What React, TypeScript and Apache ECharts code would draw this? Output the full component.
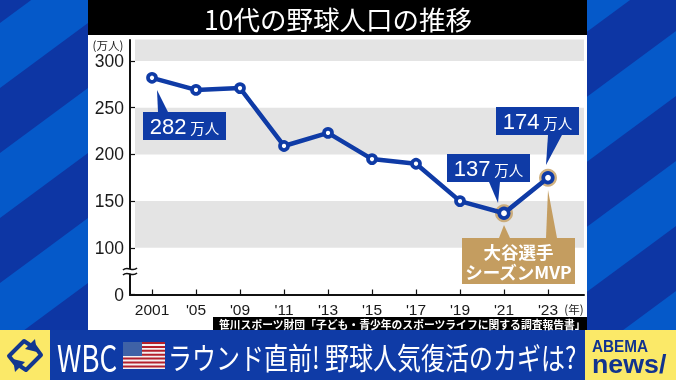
import React, { useEffect, useRef } from "react";
import * as echarts from "echarts";

const xLabels = ["2001", "'05", "'09", "'11", "'13", "'15", "'17", "'19", "'21", "'23"];
const values = [282, 269, 271, 209, 223, 195, 190, 150, 137, 175];
const highlightIdx = [8, 9];
const yTicks = [0, 100, 150, 200, 250, 300];
const bands = [[100, 150], [200, 250], [300, 323]];
const titleText = "10代の野球人口の推移";
const sourceText = "笹川スポーツ財団「子ども・青少年のスポーツライフに関する調査報告書」";
const headline = "ラウンド直前! 野球人気復活のカギは?";

const JP = '"Noto Sans CJK JP", "Noto Sans", sans-serif';
const LAT = '"Liberation Sans", Arial, sans-serif';
const BLUE = "#0f3ba6";
const TAN = "#c49d60";
const LIGHT = "#0559c9";
const DARK = "#0d36a4";
const YEL = "#fbe968";

const stripes = (x0: number, x1: number, yAtX1: number) => {
  const out: any[] = [];
  const k = 0.74;
  for (let i = -2; i < 5; i++) {
    const u = yAtX1 + i * 130;
    const d = x1 - x0;
    out.push({
      type: "polygon", z: -10, silent: true,
      shape: { points: [[x0, u + k * d], [x1, u], [x1, u + 65], [x0, u + 65 + k * d]] },
      style: { fill: DARK },
    });
  }
  return out;
};

const T = (text: string, x: number, y: number, font: string, fill: string, align = "center", extra: any = {}) => ({
  type: "text", x, y, z: 20, silent: true, ...extra,
  style: { text, font, fill, textAlign: align, textVerticalAlign: "middle", ...(extra.style || {}) },
});
const R = (x: number, y: number, w: number, h: number, fill: string, z = -5) => ({
  type: "rect", z, silent: true, shape: { x, y, width: w, height: h }, style: { fill },
});
const Tail = (pts: number[][], fill: string) => ({
  type: "polygon", z: 15, silent: true, shape: { points: pts }, style: { fill },
});
const Callout = (num: string, x: number, y: number, w: number, h: number) => ({
  type: "text", x: x + w / 2, y: y + h / 2 + 0.5, z: 20, silent: true,
  style: {
    text: `{a|${num}}{b|万人}`, fill: "#fff", textAlign: "center", textVerticalAlign: "middle",
    rich: {
      a: { font: `22px ${LAT}`, fill: "#fff", padding: [0, 4, 0, 0] },
      b: { font: `14.5px ${JP}`, fill: "#fff", padding: [2, 0, 0, 0] },
    },
  },
});

function flag() {
  const out: any[] = [R(123, 342, 42, 27, "#f4f1f1", 5)];
  for (let i = 0; i < 7; i++) out.push(R(123, 342 + i * 3.9, 42, 2, "#b3202c", 5));
  out.push(R(123, 342, 19, 14, "#3f62a6", 6));
  return out;
}

function wave(y: number) {
  return {
    type: "bezierCurve", z: 12, silent: true,
    shape: { x1: 123, y1: y + 1, x2: 137, y2: y - 1, cpx1: 128, cpy1: y - 4, cpx2: 132, cpy2: y + 4 },
    style: { stroke: "#111", lineWidth: 1.6, fill: "none" },
  };
}

function App() {
  const ref = useRef<HTMLDivElement>(null);
  useEffect(() => {
    document.body.style.margin = "0";
    const chart = echarts.init(ref.current!, null, { renderer: "svg" });
    const graphic: any[] = [
      R(0, 0, 676, 380, LIGHT, -20),
      ...stripes(0, 88, 23),
      ...stripes(587, 676, -34),
      R(88, 0, 499, 35, "#000", -4),
      R(88, 35, 499, 295, "#fff", -4),
      R(0, 330, 676, 50, BLUE, 4),
      R(0, 330, 50, 50, YEL, 5),
      R(585, 330, 91, 50, YEL, 5),
      T(titleText, 338, 18, `26.5px ${JP}`, "#fff"),
      T("(万人)", 108, 44.5, `11.5px ${JP}`, "#222"),
      T("(年)", 574, 308.5, `11.5px ${JP}`, "#222"),
      R(125, 269, 11, 5, "#fff", 11),
      wave(269),
      wave(274),
      R(213, 317, 374, 13, "#000", 3),
      T(sourceText, 219, 323.8, `bold 10.8px ${JP}`, "#fff", "left"),

      R(143, 112, 83, 28, BLUE, 15),
      Tail([[157, 90], [158, 112], [168, 112]], BLUE),
      Callout("282", 143, 112, 83, 28),
      R(447, 154, 83, 28, BLUE, 15),
      Tail([[498, 203], [489, 182], [500, 182]], BLUE),
      Callout("137", 447, 154, 83, 28),
      R(496, 107, 83, 28, BLUE, 15),
      Tail([[546, 165], [548, 135], [562, 135]], BLUE),
      Callout("174", 496, 107, 83, 28),

      R(462, 238, 113, 46, TAN, 15),
      Tail([[504, 225], [499, 238], [510, 238]], TAN),
      Tail([[548, 190], [546, 238], [557, 238]], TAN),
      T("大谷選手\nシーズンMVP", 518.5, 261, `bold 17.5px ${JP}`, "#fff", "center", { style: { lineHeight: 20 } }),

      T("WBC", 57, 355.5, `37px ${JP}`, "#fff", "left", { scaleX: 0.75 }),
      ...flag(),
      T(headline, 168, 356, `30px ${JP}`, "#fff", "left", { scaleX: 0.8 }),

      T("ABEMA", 592, 346, `bold 17px ${LAT}`, "#11338f", "left", { scaleX: 0.9 }),
      T("news/", 592, 364, `bold 26px ${LAT}`, "#11338f", "left", { scaleX: 1.03 }),
      {
        type: "polyline", z: 8, silent: true,
        shape: { points: [[17, 366], [9, 356], [24, 341], [30, 345]] },
        style: { stroke: "#12378f", lineWidth: 4, fill: "none", lineJoin: "round" },
      },
      {
        type: "polyline", z: 8, silent: true,
        shape: { points: [[33, 344], [41, 355], [26, 370], [20, 366]] },
        style: { stroke: "#12378f", lineWidth: 4, fill: "none", lineJoin: "round" },
      },
      { type: "polygon", z: 8, silent: true, shape: { points: [[35, 339], [37, 352], [25, 349]] }, style: { fill: "#12378f" } },
      { type: "polygon", z: 8, silent: true, shape: { points: [[15, 372], [13, 359], [25, 362]] }, style: { fill: "#12378f" } },
    ];

    chart.setOption({
      animation: false,
      backgroundColor: "transparent",
      grid: { left: 130, right: 92, top: 39.5, bottom: 85.5 },
      xAxis: {
        type: "value", min: -0.5, max: 9.818,
        splitLine: { show: false },
        axisLine: { show: true, onZero: false, lineStyle: { color: "#111", width: 2 } },
        axisTick: { show: true, inside: true, length: 5, customValues: xLabels.map((_, i) => i), lineStyle: { color: "#111", width: 1.2 } },
        axisLabel: {
          customValues: xLabels.map((_, i) => i), margin: 7,
          formatter: (v: number) => xLabels[v] ?? "",
          fontFamily: LAT, fontSize: 15.5, color: "#1a1a1a",
        },
      },
      yAxis: {
        type: "value", min: 0, max: 323,
        breaks: [{ start: 25, end: 75, gap: 0 }],
        breakArea: { show: false },
        splitLine: { show: false },
        axisLine: { show: true, onZero: false, lineStyle: { color: "#111", width: 2 } },
        axisTick: { show: true, inside: true, length: 5, customValues: yTicks, lineStyle: { color: "#111", width: 1.2 } },
        axisLabel: { customValues: yTicks, margin: 6, fontFamily: LAT, fontSize: 17.5, color: "#1a1a1a" },
      },
      series: [
        {
          type: "scatter", z: 2, symbolSize: 18, silent: true,
          itemStyle: { color: TAN },
          data: highlightIdx.map((i) => [i, values[i]]),
        },
        {
          type: "line", z: 3, silent: true, symbol: "circle",
          lineStyle: { color: BLUE, width: 4.5 },
          symbolSize: (_: any, p: any) => (highlightIdx.includes(p.dataIndex) ? 9.5 : 8),
          itemStyle: { color: "#fff", borderColor: BLUE, borderWidth: 3.7 },
          data: values.map((v, i) => [i, v]),
          markArea: {
            silent: true, z: 1,
            itemStyle: { color: "#e4e4e4" },
            data: bands.map(([a, b]) => [{ xAxis: -0.386, yAxis: a }, { xAxis: 9.818, yAxis: b }]),
          },
        },
      ],
      graphic,
    });
    return () => chart.dispose();
  }, []);
  return <div ref={ref} style={{ position: "fixed", left: 0, top: 0, width: 676, height: 380 }} />;
}

export default App;
